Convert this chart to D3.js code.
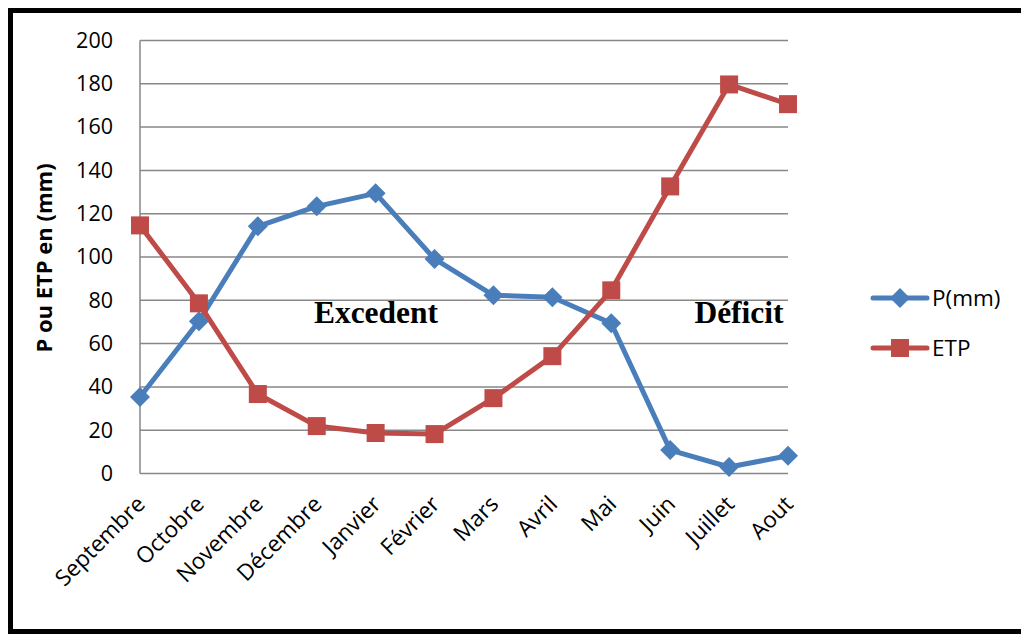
<!DOCTYPE html>
<html>
<head>
<meta charset="utf-8">
<script src="https://cdn.jsdelivr.net/npm/d3@7"></script>
<style>
  html, body { margin: 0; padding: 0; background: #fff; }
  svg { display: block; }
</style>
</head>
<body>
<svg id="chart" width="1021" height="635"></svg>
<script>
// Monthly rainfall P and potential evapotranspiration ETP (mm)
const months = ["Septembre", "Octobre", "Novembre", "Décembre", "Janvier", "Février",
                "Mars", "Avril", "Mai", "Juin", "Juillet", "Aout"];
const pValues   = [35.3, 70.3, 114.2, 123.4, 129.4, 99.1, 82.3, 81.4, 69.4, 10.8, 3.0, 8.2];
const etpValues = [114.6, 78.6, 36.7, 21.9, 18.7, 18.2, 34.8, 54.2, 84.6, 132.6, 179.7, 170.6];
const yTicks = [0, 20, 40, 60, 80, 100, 120, 140, 160, 180, 200];
const seriesNames = ["P(mm)", "ETP"];

const svg = d3.select("#chart");
const font = "'Open Sans', 'DejaVu Sans', sans-serif";
const blue = "#4A7EBB";
const red = "#BE4B48";

// outer frame
svg.append("path")
  .attr("d", "M1030,10.5 H10.5 V631.5 H1030")
  .attr("fill", "none").attr("stroke", "#000").attr("stroke-width", 5);

const plot = { left: 140, right: 788, top: 40.5, bottom: 473.5 };

const x = d3.scalePoint().domain(months).range([plot.left, plot.right]);
const y = d3.scaleLinear().domain([0, 200]).range([plot.bottom, plot.top]);

// horizontal gridlines
svg.append("g")
  .selectAll("line").data(yTicks).join("line")
  .attr("x1", plot.left).attr("x2", plot.right)
  .attr("y1", d => y(d)).attr("y2", d => y(d))
  .attr("stroke", "#878787").attr("stroke-width", 1.5);

// vertical axis line
svg.append("line")
  .attr("x1", plot.left).attr("x2", plot.left)
  .attr("y1", y(200)).attr("y2", y(0))
  .attr("stroke", "#878787").attr("stroke-width", 1.5);

// y axis labels
const yAxis = d3.axisLeft(y).tickValues(yTicks).tickSize(0).tickPadding(27);
const yg = svg.append("g").attr("transform", `translate(${plot.left},0)`).call(yAxis);
yg.select(".domain").remove();
yg.selectAll("text").attr("font-family", font).attr("font-size", 21.5).attr("fill", "#000");

// x axis labels, rotated
const xAxis = d3.axisBottom(x).tickSize(0).tickPadding(0);
const xg = svg.append("g").attr("transform", `translate(0,${plot.bottom})`).call(xAxis);
xg.select(".domain").remove();
xg.selectAll("text")
  .attr("font-family", font).attr("font-size", 22.5).attr("fill", "#000")
  .attr("text-anchor", "end")
  .attr("dy", null).attr("y", 0)
  .attr("transform", "translate(6,32) rotate(-45)");

// axis title
svg.append("text")
  .attr("transform", `translate(52,${(plot.top + plot.bottom) / 2 + 1}) rotate(-90)`)
  .attr("text-anchor", "middle")
  .attr("font-family", font).attr("font-weight", "bold").attr("font-size", 22)
  .text("P ou ETP en (mm)");

// series lines
const line = d3.line().x((d, i) => x(months[i])).y(d => y(d));

svg.append("path").datum(pValues).attr("d", line)
  .attr("fill", "none").attr("stroke", blue).attr("stroke-width", 5).attr("stroke-linejoin", "round");
svg.append("path").datum(etpValues).attr("d", line)
  .attr("fill", "none").attr("stroke", red).attr("stroke-width", 5).attr("stroke-linejoin", "round");

const diamond = s => `M0,${-s} L${s},0 L0,${s} L${-s},0 Z`;
const squareHalf = 9;

svg.append("g").selectAll("path").data(pValues).join("path")
  .attr("d", diamond(10))
  .attr("transform", (d, i) => `translate(${x(months[i])},${y(d)})`)
  .attr("fill", blue);

svg.append("g").selectAll("rect").data(etpValues).join("rect")
  .attr("x", (d, i) => x(months[i]) - squareHalf)
  .attr("y", d => y(d) - squareHalf)
  .attr("width", squareHalf * 2).attr("height", squareHalf * 2)
  .attr("fill", red);

// annotations
const serif = "'Liberation Serif', 'DejaVu Serif', serif";
svg.append("text").attr("x", 376).attr("y", 323).attr("text-anchor", "middle")
  .attr("font-family", serif).attr("font-weight", "bold").attr("font-size", 31.5)
  .text("Excedent");
svg.append("text").attr("x", 739).attr("y", 323).attr("text-anchor", "middle")
  .attr("font-family", serif).attr("font-weight", "bold").attr("font-size", 31.5)
  .text("Déficit");

// legend
const legend = svg.append("g");
const legendY = [298, 348];
const colors = [blue, red];
seriesNames.forEach((name, i) => {
  const g = legend.append("g").attr("transform", `translate(0,${legendY[i]})`);
  g.append("line").attr("x1", 873).attr("x2", 927).attr("y1", 0).attr("y2", 0)
    .attr("stroke", colors[i]).attr("stroke-width", 5).attr("stroke-linecap", "round");
  if (i === 0) {
    g.append("path").attr("d", diamond(10)).attr("transform", "translate(900,0)").attr("fill", blue);
  } else {
    g.append("rect").attr("x", 891).attr("y", -9).attr("width", 18).attr("height", 18).attr("fill", red);
  }
  g.append("text").attr("x", 932).attr("y", 8)
    .attr("font-family", font).attr("font-size", 22.5).text(name);
});
</script>
</body>
</html>
